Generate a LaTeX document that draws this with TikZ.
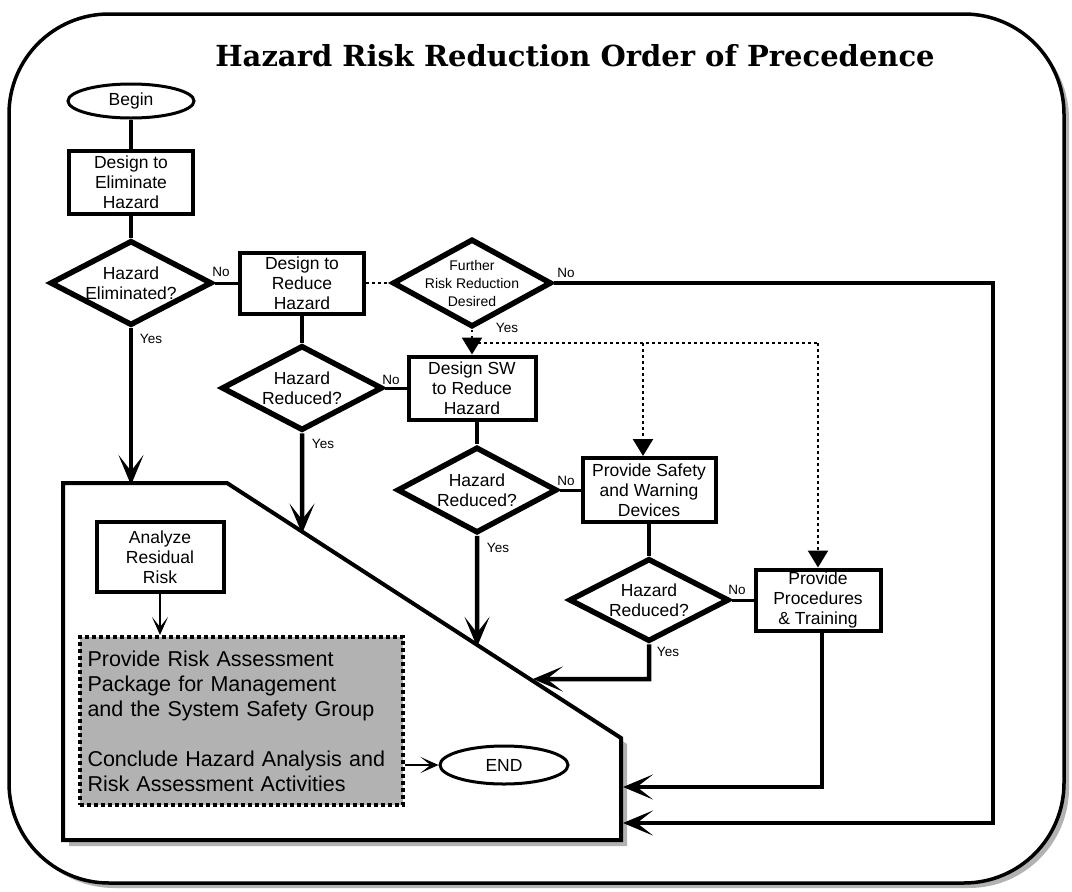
\documentclass[tikz,border=0pt]{standalone}
\usepackage{fontspec}
\setmainfont{Liberation Sans}
\newfontfamily\titlefont{DejaVu Serif}
\usetikzlibrary{shapes.geometric,arrows.meta,calc}
\begin{document}
\begin{tikzpicture}[x=1pt,y=-1pt,
  box/.style={draw,line width=4pt,rectangle,inner sep=0pt,align=center,fill=white,font=\fontsize{17.5}{20}\selectfont},
  dia/.style={draw,line width=5.5pt,diamond,inner sep=-20pt,align=center,fill=white,font=\fontsize{17.5}{20}\selectfont},
  term/.style={draw,line width=3pt,ellipse,inner sep=0pt,fill=white,font=\fontsize{17.5}{20}\selectfont},
  lbl/.style={font=\fontsize{13.5}{15}\selectfont,inner sep=0pt},
  flow/.style={line width=4.5pt},
  side/.style={line width=3pt},
  flowarrow/.style={line width=4.5pt,-{Stealth[length=30pt,width=25pt,inset=16pt]}},
  thinarrow/.style={line width=1.8pt,-{Stealth[length=18pt,width=16pt,inset=10pt]}},
  dotline/.style={line width=2.5pt,dash pattern=on 2.5pt off 3.5pt},
  dotarrow/.style={dotline,-{Triangle[length=17pt,width=20pt]}},
]
\useasboundingbox (0,0) rectangle (1072,892);
\fill[white] (0,0) rectangle (1072,892);
% outer frame with shadow
\fill[gray!60,rounded corners=100pt] (14,19) rectangle (1069,888);
\draw[line width=3.5pt,fill=white,rounded corners=100pt] (9,14) rectangle (1064,883);
% title
\node[font=\titlefont\bfseries\fontsize{29}{33}\selectfont] (title) at (575,56) {Hazard Risk Reduction Order of Precedence};
% pentagon region
\coordinate (P1) at (63,483);
\coordinate (P2) at (227,483);
\coordinate (P3) at (621,738);
\coordinate (P4) at (621,840);
\coordinate (P5) at (63,840);
\fill[gray!60] ([shift={(6,6)}]P1) -- ([shift={(6,6)}]P2) -- ([shift={(6,6)}]P3) -- ([shift={(6,6)}]P4) -- ([shift={(6,6)}]P5) -- cycle;
\draw[line width=4pt,fill=white] (P1) -- (P2) -- (P3) -- (P4) -- (P5) -- cycle;
% nodes
\node[term,minimum width=126pt,minimum height=34pt] (begin) at (131,101) {Begin};
\node[box,minimum width=124pt,minimum height=63pt] (elim) at (131,182) {Design to\\Eliminate\\Hazard};
\node[dia,minimum width=162pt,minimum height=85pt] (q1) at (131,283) {Hazard\\Eliminated?};
\node[box,minimum width=124pt,minimum height=61pt] (red) at (302,283) {Design to\\Reduce\\Hazard};
\node[dia,minimum width=159pt,minimum height=88pt,font=\fontsize{14}{18}\selectfont] (q2) at (472,283) {Further\\Risk Reduction\\Desired};
\node[box,minimum width=127pt,minimum height=63pt] (sw) at (472,388) {Design SW\\to Reduce\\Hazard};
\node[dia,minimum width=161pt,minimum height=85pt] (q3) at (302,388) {Hazard\\Reduced?};
\node[dia,minimum width=160pt,minimum height=86pt] (q4) at (477,490) {Hazard\\Reduced?};
\node[box,minimum width=133pt,minimum height=64pt] (safe) at (649,490) {Provide Safety\\and Warning\\Devices};
\node[dia,minimum width=160pt,minimum height=83pt] (q5) at (649,600) {Hazard\\Reduced?};
\node[box,minimum width=125pt,minimum height=61pt] (proc) at (818,600) {Provide\\Procedures\\\& Training};
\node[box,minimum width=127pt,minimum height=70pt] (ana) at (160,557) {Analyze\\Residual\\Risk};
\node[draw,line width=4pt,dash pattern=on 4pt off 3pt,fill=gray!60,minimum width=323pt,minimum height=168pt,text width=308pt,align=left,inner sep=0pt,font=\fontsize{21.5}{25}\selectfont] (pkg) at (241.5,721) {Provide Risk Assessment\\Package for Management\\and the System Safety Group\\[25pt]Conclude Hazard Analysis and\\Risk Assessment Activities};
\node[term,minimum width=128pt,minimum height=38pt] (end) at (504,765) {END};
% helper coordinates
\coordinate (d0) at (472,343);
\coordinate (d1) at (643,343);
\coordinate (d2) at (818,343);
\coordinate (rt) at (993,823);
\coordinate (r1) at (822,787);
\coordinate (y5) at (649,679);
\coordinate (y5b) at (63,679);
\coordinate (t3) at (intersection of P2--P3 and q3.north--q3.south);
\coordinate (t4) at (intersection of P2--P3 and q4.north--q4.south);
\coordinate (t5) at (intersection of P2--P3 and y5--y5b);
% connectors
\draw[flow] (begin.south) -- (elim.north);
\draw[flow] (elim.south) -- (q1.north);
\draw[side] (q1.east) -- (red.west);
\draw[dotline] (red.east) -- (q2.west);
\draw[flowarrow] (q2.east) -| (rt) -- ([xshift=2pt]rt -| P4);
\draw[dotarrow] (q2.south) -- (sw.north);
\draw[dotline] (d0) -- (d2);
\draw[dotarrow] (d1) -- (d1 |- safe.north);
\draw[dotarrow] (d2) -- (proc.north);
\draw[flow] (red.south) -- (q3.north);
\draw[side] (q3.east) -- (sw.west);
\draw[flowarrow] (q1.south) -- ([yshift=-2pt]q1.south |- P1);
\draw[flowarrow] (q3.south) -- ([yshift=-2pt]t3);
\draw[flow] (q4.north |- sw.south) -- (q4.north);
\draw[side] (q4.east) -- (safe.west);
\draw[flowarrow] (q4.south) -- ([yshift=-2pt]t4);
\draw[flow] (safe.south) -- (q5.north);
\draw[side] (q5.east) -- (proc.west);
\draw[flowarrow] (q5.south) -- (y5) -- ([xshift=3pt]t5);
\draw[flowarrow] (r1 |- proc.south) -- (r1) -- ([xshift=2pt]r1 -| P4);
\draw[thinarrow] (ana.south) -- (ana.south |- pkg.north);
\draw[thinarrow] (pkg.east |- end) -- (end.west);
% labels
\node[lbl] (no1) at (221,272) {No};
\node[lbl] (no2) at (566,273) {No};
\node[lbl] (no3) at (391,380) {No};
\node[lbl] (no4) at (566,481) {No};
\node[lbl] (no5) at (737,590) {No};
\node[lbl] (yes1) at (151,339) {Yes};
\node[lbl] (yes2) at (507,328) {Yes};
\node[lbl] (yes3) at (323,444) {Yes};
\node[lbl] (yes4) at (498,548) {Yes};
\node[lbl] (yes5) at (668,652) {Yes};
\end{tikzpicture}
\end{document}
